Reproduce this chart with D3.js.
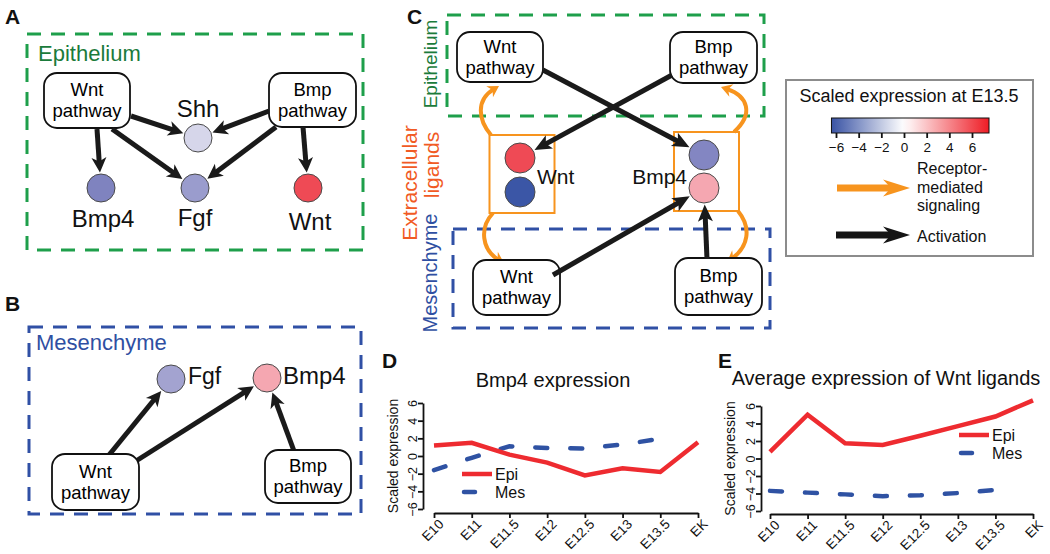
<!DOCTYPE html>
<html><head><meta charset="utf-8">
<script src="https://cdn.jsdelivr.net/npm/d3@7"></script>
<style>
body{margin:0;background:#fff}
svg{display:block;font-family:"Liberation Sans",Arial,Helvetica,sans-serif}
</style>
</head><body>
<svg id="fig" width="1050" height="554"></svg>
<script>
// ---------------- DATA ----------------
const categories = ["E10","E11","E11.5","E12","E12.5","E13","E13.5","EK"];
const bmp4Epi = [1.2, 1.5, 0.15, -0.75, -2.2, -1.4, -1.8, 1.55];
const bmp4Mes = [-1.6, -0.2, 1.1, 0.9, 0.85, 1.3, 1.95, null];
const wntEpi  = [0.75, 5.0, 1.75, 1.55, 2.6, 3.7, 4.8, 6.65];
const wntMes  = [-3.7, -3.9, -4.1, -4.3, -4.2, -3.95, -3.6, null];
const yTicks = [-6, -4, -2, 0, 2, 4, 6];
const colorbarTicks = [-6, -4, -2, 0, 2, 4, 6];
const colorbarExtent = [-6.4, 7.5];
const seriesNames = ["Epi", "Mes"];

// ---------------- STYLE ----------------
const RED = "#ee2b30", BLUE = "#2f52a3", ORANGE = "#f7941e";
const GREEN_LINE = "#1e9f4b", GREEN_TXT = "#1b7b3b";
const BLUE_LINE = "#3050a5", BLUE_TXT = "#2f4fa2";
const EXTRA_TXT = "#f15a24";

const svg = d3.select("#fig");
svg.append("rect").attr("width",1050).attr("height",554).attr("fill","#fff");

// ---------------- helpers ----------------
function head(g, tip, u, L, W, N, color){
  const n = [-u[1], u[0]];
  const b = [tip[0]-L*u[0], tip[1]-L*u[1]];
  const pts = [tip, [b[0]+W*n[0], b[1]+W*n[1]], [tip[0]-(L-N)*u[0], tip[1]-(L-N)*u[1]], [b[0]-W*n[0], b[1]-W*n[1]]];
  g.append("path").attr("d", "M" + pts.map(p=>p.join(",")).join("L") + "Z").attr("fill", color);
}
function arrow(g, x1, y1, x2, y2, o){
  o = Object.assign({w:5, L:15, W:7.5, N:4, color:"#1a1a1a"}, o||{});
  const dx = x2-x1, dy = y2-y1, len = Math.hypot(dx,dy), u=[dx/len, dy/len];
  const e = [x2-(o.L-o.N-1)*u[0], y2-(o.L-o.N-1)*u[1]];
  g.append("line").attr("x1",x1).attr("y1",y1).attr("x2",e[0]).attr("y2",e[1])
    .attr("stroke",o.color).attr("stroke-width",o.w);
  head(g,[x2,y2],u,o.L,o.W,o.N,o.color);
}
function arrowToCircle(g, x1, y1, c, o){
  const dx=c.x-x1, dy=c.y-y1, len=Math.hypot(dx,dy);
  const r = (c.r||14) + 1.5;
  arrow(g, x1, y1, c.x - dx/len*r, c.y - dy/len*r, o);
}
function curvedArrow(g, p0, c1, c2, tip, o){
  o = Object.assign({w:4, L:11, W:6.5, N:3.5, color:ORANGE}, o||{});
  const dx = tip[0]-c2[0], dy = tip[1]-c2[1], len=Math.hypot(dx,dy), u=[dx/len,dy/len];
  const e = [tip[0]-(o.L-o.N-1)*u[0], tip[1]-(o.L-o.N-1)*u[1]];
  const p = d3.path(); p.moveTo(p0[0],p0[1]); p.bezierCurveTo(c1[0],c1[1],c2[0],c2[1],e[0],e[1]);
  g.append("path").attr("d",p.toString()).attr("fill","none").attr("stroke",o.color).attr("stroke-width",o.w);
  head(g,tip,u,o.L,o.W,o.N,o.color);
}
function pathwayBox(g, b, fs){
  g.append("rect").attr("x",b.x-b.w/2).attr("y",b.y-b.h/2).attr("width",b.w).attr("height",b.h)
    .attr("rx",13).attr("fill","#fff").attr("stroke","#111").attr("stroke-width",1.8);
  g.append("text").attr("x",b.x).attr("y",b.y-4.5).attr("text-anchor","middle").attr("font-size",fs).text(b.lines[0]);
  g.append("text").attr("x",b.x).attr("y",b.y+16.5).attr("text-anchor","middle").attr("font-size",fs).text(b.lines[1]);
}
function node(g, c){
  g.append("circle").attr("cx",c.x).attr("cy",c.y).attr("r",c.r||14).attr("fill",c.color)
    .attr("stroke","#4a4a4a").attr("stroke-width",1);
}
function dashedBox(g, x0,y0,x1,y1,color){
  g.append("rect").attr("x",x0).attr("y",y0).attr("width",x1-x0).attr("height",y1-y0)
    .attr("fill","none").attr("stroke",color).attr("stroke-width",3).attr("stroke-dasharray","14,10");
}
function label(g, x, y, t, o){
  o = o||{};
  const el = g.append("text").attr("x",x).attr("y",y).attr("font-size",o.fs||24)
    .attr("text-anchor",o.anchor||"start").attr("fill",o.fill||"#111").text(t);
  if(o.bold) el.attr("font-weight","bold");
  if(o.rot) el.attr("transform",`rotate(${o.rot},${x},${y})`);
  return el;
}

// ---------------- Panel labels ----------------
[["A",5,24],["B",5,311],["C",407,24],["D",382,368],["E",718,368]]
  .forEach(d=>label(svg,d[1],d[2],d[0],{fs:21,bold:true}));

const BOXFS = 18.5;

// ---------------- Panel A ----------------
const gA = svg.append("g");
dashedBox(gA,27,34,363,250,GREEN_LINE);
label(gA,38,61,"Epithelium",{fs:22,fill:GREEN_TXT});
const A = {
  wntP:{x:87,y:100.5,w:86,h:55,lines:["Wnt","pathway"]},
  bmpP:{x:312.5,y:100,w:87,h:54,lines:["Bmp","pathway"]},
  shh:{x:198,y:138,color:"#d6d6ea"},
  bmp4:{x:101,y:188,color:"#7f83bf"},
  fgf:{x:195,y:188,color:"#9a9ccd"},
  wnt:{x:308,y:188,color:"#ef4a55"}
};
pathwayBox(gA,A.wntP,BOXFS); pathwayBox(gA,A.bmpP,BOXFS);
arrowToCircle(gA,97,129,A.bmp4);
arrowToCircle(gA,131,116,A.shh);
arrowToCircle(gA,112,129,A.fgf);
arrowToCircle(gA,269,111,A.shh);
arrowToCircle(gA,276,127,A.fgf);
arrowToCircle(gA,303,127,A.wnt);
["shh","bmp4","fgf","wnt"].forEach(k=>node(gA,A[k]));
label(gA,198,117,"Shh",{anchor:"middle"});
label(gA,103,227,"Bmp4",{anchor:"middle"});
label(gA,195,226,"Fgf",{anchor:"middle"});
label(gA,310,230,"Wnt",{anchor:"middle"});

// ---------------- Panel B ----------------
const gB = svg.append("g");
dashedBox(gB,29,327,361,514,BLUE_LINE);
label(gB,36,350,"Mesenchyme",{fs:22,fill:BLUE_TXT});
const B = {
  wntP:{x:95.5,y:482,w:87,h:56,lines:["Wnt","pathway"]},
  bmpP:{x:308,y:476.5,w:86,h:53,lines:["Bmp","pathway"]},
  fgf:{x:171,y:379,color:"#a3a3d0"},
  bmp4:{x:267,y:378,color:"#f5a7b1"}
};
arrowToCircle(gB,109,455,B.fgf);
arrowToCircle(gB,136,461,B.bmp4);
arrowToCircle(gB,294,451,B.bmp4);
pathwayBox(gB,B.wntP,BOXFS); pathwayBox(gB,B.bmpP,BOXFS);
node(gB,B.fgf); node(gB,B.bmp4);
label(gB,188,384,"Fgf",{fs:23});
label(gB,283,384,"Bmp4",{fs:24});

// ---------------- Panel C ----------------
const gC = svg.append("g");
dashedBox(gC,447,15,764,116,GREEN_LINE);
dashedBox(gC,453,229,770,328,BLUE_LINE);
label(gC,437,64,"Epithelium",{fs:19,fill:GREEN_TXT,anchor:"middle",rot:-90});
label(gC,417,183,"Extracellular",{fs:21,fill:EXTRA_TXT,anchor:"middle",rot:-90});
label(gC,439,165,"ligands",{fs:21,fill:EXTRA_TXT,anchor:"middle",rot:-90});
label(gC,437,273,"Mesenchyme",{fs:20,fill:BLUE_TXT,anchor:"middle",rot:-90});
gC.append("rect").attr("x",489.5).attr("y",135).attr("width",65).attr("height",78).attr("fill","none").attr("stroke",ORANGE).attr("stroke-width",2);
gC.append("rect").attr("x",674).attr("y",132).attr("width",65).attr("height",79).attr("fill","none").attr("stroke",ORANGE).attr("stroke-width",2);
// orange receptor-mediated arrows
curvedArrow(gC,[491,135],[478,120],[476,100],[499,86]);
curvedArrow(gC,[493,213],[479,228],[482,250],[504,263]);
curvedArrow(gC,[734,132],[754,114],[748,96],[721,87]);
curvedArrow(gC,[738,211],[752,228],[748,247],[727,262]);
const C = {
  wntE:{x:500,y:57,w:86,h:50,lines:["Wnt","pathway"]},
  bmpE:{x:713.5,y:57.5,w:87,h:51,lines:["Bmp","pathway"]},
  wntM:{x:516.5,y:287.5,w:87,h:55,lines:["Wnt","pathway"]},
  bmpM:{x:718.5,y:286.5,w:87,h:57,lines:["Bmp","pathway"]},
  wntR:{x:520,y:158,r:15,color:"#ef4a55"},
  wntB:{x:520,y:192,r:15,color:"#3b56a6"},
  bmpL:{x:704,y:155,r:15,color:"#8386c2"},
  bmpP:{x:704,y:188,r:15,color:"#f5a7b1"}
};
pathwayBox(gC,C.wntE,BOXFS); pathwayBox(gC,C.bmpE,BOXFS);
pathwayBox(gC,C.wntM,BOXFS); pathwayBox(gC,C.bmpM,BOXFS);
arrowToCircle(gC,543,70,C.bmpL,{L:17,W:7.5});
arrowToCircle(gC,672,75,C.wntR,{L:17,W:7.5});
arrowToCircle(gC,553,275,C.bmpP,{L:17,W:7.5});
arrowToCircle(gC,707,259,C.bmpP,{L:17,W:7.5});
["wntR","wntB","bmpL","bmpP"].forEach(k=>node(gC,C[k]));
label(gC,537,184,"Wnt",{fs:21});
label(gC,687,184,"Bmp4",{fs:21,anchor:"end"});

// ---------------- Legend ----------------
const gL = svg.append("g");
gL.append("rect").attr("x",786).attr("y",80).attr("width",247).attr("height",176)
  .attr("fill","#fff").attr("stroke","#8c8c8c").attr("stroke-width",2);
label(gL,909,102,"Scaled expression at E13.5",{fs:18,anchor:"middle"});
const cbX = d3.scaleLinear().domain([-6,6]).range([836,972]);
const cbColor = d3.scaleLinear().domain([colorbarExtent[0],0,colorbarExtent[1]]).range(["#3953a4","#ffffff","#ee1c25"]);
const grad = svg.append("defs").append("linearGradient").attr("id","cbgrad");
d3.range(0,1.0001,0.05).forEach(t=>{
  const v = colorbarExtent[0] + t*(colorbarExtent[1]-colorbarExtent[0]);
  grad.append("stop").attr("offset",t).attr("stop-color",cbColor(v));
});
gL.append("rect").attr("x",cbX(colorbarExtent[0])).attr("y",118)
  .attr("width",cbX(colorbarExtent[1])-cbX(colorbarExtent[0])).attr("height",15)
  .attr("fill","url(#cbgrad)").attr("stroke","#111").attr("stroke-width",1);
const cbAxis = gL.append("g").attr("transform","translate(0,133)")
  .call(d3.axisBottom(cbX).tickValues(colorbarTicks).tickSize(5).tickFormat(d3.format("d")));
cbAxis.select(".domain").remove();
cbAxis.selectAll(".tick line").attr("stroke","#111").attr("stroke-width",1.8);
cbAxis.selectAll("text").attr("font-size",13.5).attr("font-family",null).attr("fill","#111").attr("dy","0.85em");
arrow(gL,837,188,910,188,{w:7,L:27,W:8.5,N:8,color:ORANGE});
label(gL,917,174,"Receptor-",{fs:16});
label(gL,917,193,"mediated",{fs:16});
label(gL,917,211,"signaling",{fs:16});
arrow(gL,836,235,910,235,{w:7,L:27,W:8.5,N:8,color:"#151515"});
label(gL,917,242,"Activation",{fs:16});

// ---------------- Line charts ----------------
function lineChart(cfg){
  const g = svg.append("g");
  const x = d3.scalePoint().domain(categories).range(cfg.xr);
  const y = d3.scaleLinear().domain([-6,6]).range(cfg.yr);
  const ya = g.append("g").attr("transform",`translate(${cfg.ax},0)`)
    .call(d3.axisLeft(y).tickValues(yTicks).tickSize(5).tickSizeOuter(0).tickFormat(d3.format("d")));
  ya.selectAll("text").attr("transform","rotate(-90)").attr("x",0).attr("y",-6.5).attr("dy","0")
    .attr("text-anchor","middle").attr("font-size",12.5).attr("font-family",null).attr("fill","#111");
  const xa = g.append("g").attr("transform",`translate(0,${cfg.ay})`)
    .call(d3.axisBottom(x).tickSize(5).tickSizeOuter(0));
  xa.selectAll("text").attr("font-size",13.5).attr("font-family",null).attr("fill","#111")
    .attr("text-anchor","end").attr("y",0).attr("dy",0)
    .attr("transform","translate(10,12) rotate(-45)");
  g.selectAll(".domain, .tick line").attr("stroke","#111").attr("stroke-width",1.8);
  label(g,cfg.ylx,(cfg.yr[0]+cfg.yr[1])/2,"Scaled expression",{fs:14,anchor:"middle",rot:-90});
  label(g,cfg.tx,cfg.ty,cfg.title,{fs:20,anchor:"middle"});
  const line = d3.line().defined(d=>d!=null).x((d,i)=>x(categories[i])).y(d=>y(d));
  g.append("path").datum(cfg.mes).attr("d",line).attr("fill","none").attr("stroke",BLUE)
    .attr("stroke-width",4.5).attr("stroke-dasharray","12,23").attr("stroke-linecap","round");
  g.append("path").datum(cfg.epi).attr("d",line).attr("fill","none").attr("stroke",RED)
    .attr("stroke-width",4.5).attr("stroke-linejoin","miter");
  const L = cfg.leg;
  g.append("line").attr("x1",L.x).attr("x2",L.x+30).attr("y1",L.y1).attr("y2",L.y1).attr("stroke",RED).attr("stroke-width",4.5);
  g.append("line").attr("x1",L.x+2).attr("x2",L.x+13).attr("y1",L.y2).attr("y2",L.y2).attr("stroke",BLUE).attr("stroke-width",4.5).attr("stroke-linecap","round");
  label(g,L.x+33,L.y1+6,seriesNames[0],{fs:16});
  label(g,L.x+33,L.y2+6,seriesNames[1],{fs:16});
}
lineChart({xr:[434,698],yr:[509,403],ax:423,ay:513,ylx:398,tx:553,ty:387,title:"Bmp4 expression",
  epi:bmp4Epi,mes:bmp4Mes,leg:{x:462,y1:474,y2:492}});
lineChart({xr:[770,1033],yr:[511,406],ax:761,ay:514,ylx:735,tx:886,ty:385,title:"Average expression of Wnt ligands",
  epi:wntEpi,mes:wntMes,leg:{x:959,y1:435,y2:453}});
</script>
</body></html>
